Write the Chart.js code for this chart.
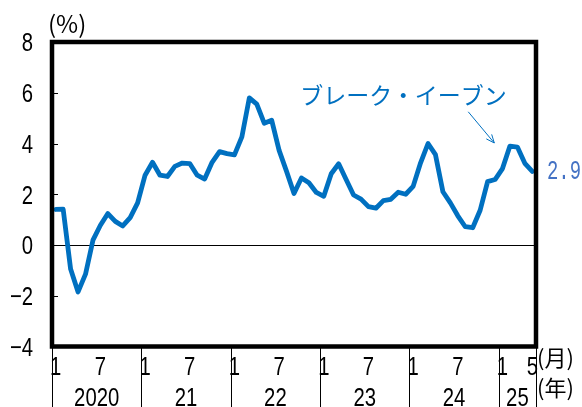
<!DOCTYPE html>
<html>
<head>
<meta charset="utf-8">
<script src="https://cdn.jsdelivr.net/npm/chart.js@4/dist/chart.umd.min.js"></script>
<style>
html, body { margin: 0; padding: 0; background: #fff; }
#wrap { width: 582px; height: 407px; }
</style>
</head>
<body>
<div id="wrap"><canvas id="chart" width="582" height="407"></canvas></div>
<script>
/* data */
const years = ["2020", "21", "22", "23", "24", "25"];
const monthsInYear = [12, 12, 12, 12, 12, 5];
const yTicks = [-4, -2, 0, 2, 4, 6, 8];

const rate = [
    1.40, 1.41, -0.95, -1.85, -1.15, 0.19, 0.78, 1.24, 0.93, 0.75, 1.08, 1.66,
    2.75, 3.26, 2.75, 2.70, 3.10, 3.23, 3.21, 2.75, 2.60, 3.26, 3.68, 3.60,
    3.55, 4.26, 5.80, 5.55, 4.80, 4.92, 3.73, 2.90, 2.03, 2.64, 2.45, 2.07,
    1.92, 2.81, 3.20, 2.58, 1.97, 1.81, 1.51, 1.45, 1.75, 1.80, 2.08, 2.00,
    2.31, 3.24, 4.00, 3.56, 2.10, 1.66, 1.15, 0.72, 0.68, 1.37, 2.50, 2.58,
    3.01, 3.90, 3.86, 3.22, 2.90
];

const lastLabel = "2.9";
const breakEvenText = "ブレーク・イーブン";

/* month labels */
const months = [];
monthsInYear.forEach(n => {
    for (let m = 1; m <= n; m++) months.push(m);
});

const numFont = "26px 'Liberation Sans', Arial, sans-serif";
const cjkFont = "'Noto Sans CJK JP', sans-serif";
const NARROW = 0.78;

// condensed text: the picture uses a narrow face that is not installed
function squeezed(ctx, text, x, y, sx, align) {
    ctx.save();
    ctx.translate(x, y);
    ctx.scale(sx, 1);
    ctx.textAlign = align;
    ctx.fillText(text, 0, 0);
    ctx.restore();
}

const extras = {
    id: "extras",
    afterDraw(chart) {
        const ctx = chart.ctx;
        const a = chart.chartArea;
        const x = chart.scales.x;
        const y = chart.scales.y;
        const half = (x.getPixelForValue(1) - x.getPixelForValue(0)) / 2;

        ctx.save();
        ctx.textBaseline = "alphabetic";
        ctx.fillStyle = "#000";

        // y tick labels + inward ticks
        ctx.font = numFont;
        ctx.strokeStyle = "#000";
        ctx.lineWidth = 1;
        y.ticks.forEach(t => {
            const py = y.getPixelForValue(t.value);
            squeezed(ctx, String(t.value).replace("-", "\u2212"), a.left - 19, py + 9.3, NARROW, "right");
            ctx.beginPath();
            ctx.moveTo(a.left, Math.round(py) + 0.5);
            ctx.lineTo(a.left + 6, Math.round(py) + 0.5);
            ctx.stroke();
        });

        // month labels
        months.forEach((m, i) => {
            if (m === 1 || m === 7 || i === months.length - 1) {
                squeezed(ctx, String(m), x.getPixelForValue(i), 375, NARROW, "center");
            }
        });

        // year separators + year labels
        let start = 0;
        years.forEach((yr, i) => {
            const end = start + monthsInYear[i] - 1;
            const x0 = x.getPixelForValue(start) - half;
            const x1 = x.getPixelForValue(end) + half;
            ctx.beginPath();
            ctx.moveTo(Math.round(x0) + 0.5, a.bottom);
            ctx.lineTo(Math.round(x0) + 0.5, 407);
            ctx.stroke();
            if (i === years.length - 1) {
                ctx.beginPath();
                ctx.moveTo(Math.round(x1) + 0.5, a.bottom);
                ctx.lineTo(Math.round(x1) + 0.5, 407);
                ctx.stroke();
            }
            squeezed(ctx, yr, (x0 + x1) / 2, 406, NARROW, "center");
            start = end + 1;
        });

        // frame
        ctx.lineWidth = 4.5;
        ctx.strokeRect(a.left, a.top, a.right - a.left, a.bottom - a.top);

        // unit labels
        ctx.textBaseline = "middle";
        ctx.font = "22px " + cjkFont;
        ctx.textAlign = "left";
        ctx.fillText("(月)", a.right + 1, 358);
        ctx.fillText("(年)", a.right + 1, 388);
        ctx.font = "24px " + cjkFont;
        ctx.fillText("(%)", 48, 24);

        // last value label
        const lastY = y.getPixelForValue(rate[rate.length - 1]);
        ctx.fillStyle = "#4472C4";
        ctx.font = "27px 'Liberation Mono', 'DejaVu Sans Mono', monospace";
        ctx.textBaseline = "alphabetic";
        squeezed(ctx, lastLabel, a.right + 11, lastY + 8, 0.7, "left");

        // break-even annotation
        ctx.fillStyle = "#0070C0";
        ctx.font = "23px " + cjkFont;
        ctx.textAlign = "center";
        ctx.textBaseline = "middle";
        ctx.fillText(breakEvenText, x.getPixelForValue(46.7), y.getPixelForValue(5.92));

        const ax0 = x.getPixelForValue(55.4), ay0 = y.getPixelForValue(5.25);
        const ax1 = x.getPixelForValue(58.9), ay1 = y.getPixelForValue(4.02);
        ctx.strokeStyle = "#0070C0";
        ctx.lineWidth = 1;
        ctx.beginPath();
        ctx.moveTo(ax0, ay0);
        ctx.lineTo(ax1, ay1);
        const ang = Math.atan2(ay1 - ay0, ax1 - ax0);
        ctx.moveTo(ax1 - 9 * Math.cos(ang - 0.4), ay1 - 9 * Math.sin(ang - 0.4));
        ctx.lineTo(ax1, ay1);
        ctx.lineTo(ax1 - 9 * Math.cos(ang + 0.4), ay1 - 9 * Math.sin(ang + 0.4));
        ctx.stroke();

        ctx.restore();
    }
};

new Chart(
    document.getElementById("chart"),
    {
        type: "line",
        data: {
            labels: months,
            datasets: [{
                data: rate,
                borderColor: "#0070C0",
                borderWidth: 4.8,
                pointRadius: 0,
                tension: 0,
                borderJoinStyle: "round",
                borderCapStyle: "round"
            }]
        },
        options: {
            responsive: false,
            animation: false,
            layout: {
                padding: { top: 42, right: 46, bottom: 0, left: 0 }
            },
            plugins: {
                legend: { display: false },
                tooltip: { enabled: false }
            },
            scales: {
                x: {
                    type: "category",
                    offset: true,
                    grid: { display: false, drawTicks: false },
                    border: { display: false },
                    afterFit: s => { s.height = 60.5; },
                    ticks: {
                        autoSkip: false,
                        maxRotation: 0,
                        color: "rgba(0,0,0,0)"
                    }
                },
                y: {
                    min: -4,
                    max: 8,
                    afterFit: s => { s.width = 52; },
                    afterBuildTicks: s => { s.ticks = yTicks.map(v => ({ value: v })); },
                    grid: {
                        drawTicks: false,
                        color: c => c.tick && c.tick.value === 0 ? "#000" : "rgba(0,0,0,0)",
                        lineWidth: 1
                    },
                    border: { display: false },
                    ticks: {
                        color: "rgba(0,0,0,0)"
                    }
                }
            }
        },
        plugins: [extras]
    }
);
</script>
</body>
</html>
